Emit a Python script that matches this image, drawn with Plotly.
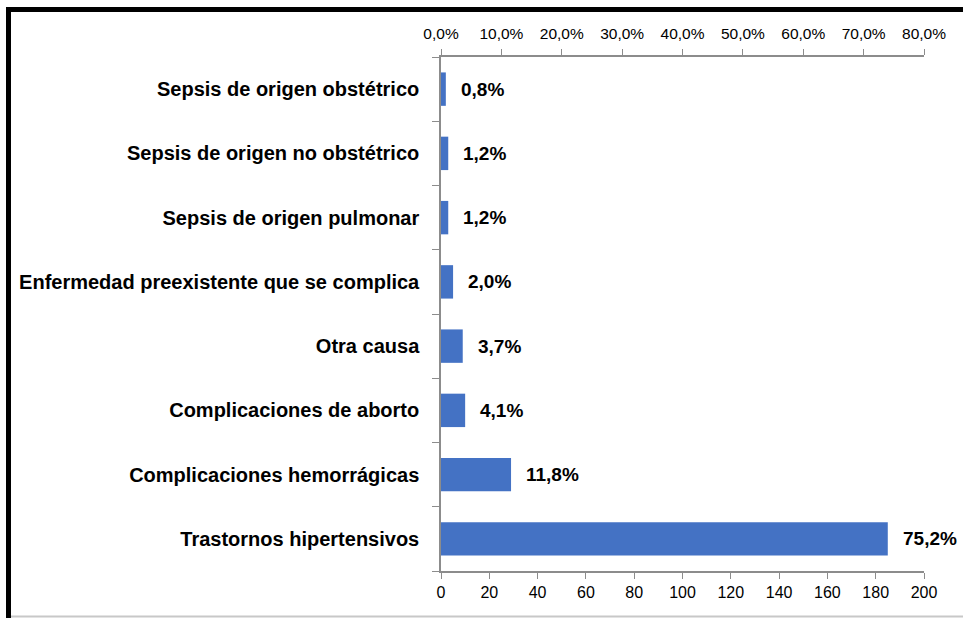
import plotly.graph_objects as go

# causes of maternal death, bottom to top as drawn
causes = [
    "Trastornos hipertensivos",
    "Complicaciones hemorrágicas",
    "Complicaciones de aborto",
    "Otra causa",
    "Enfermedad preexistente que se complica",
    "Sepsis de origen pulmonar",
    "Sepsis de origen no obstétrico",
    "Sepsis de origen obstétrico",
]
counts = [185, 29, 10, 9, 5, 3, 3, 2]
pct = [75.2, 11.8, 4.1, 3.7, 2.0, 1.2, 1.2, 0.8]
count_ticks = [0, 20, 40, 60, 80, 100, 120, 140, 160, 180, 200]
pct_ticks = [0, 0.1, 0.2, 0.3, 0.4, 0.5, 0.6, 0.7, 0.8]

W, H = 963, 618
ML, MR, MT, MB = 441, 39, 57, 47
AXIS = "#8c8c8c"
FONT = "Liberation Sans Narrow, Arial Narrow, Liberation Sans, Arial, sans-serif"


def px_x(p):
    return (p - ML) / (W - ML - MR)


def px_y(p):
    return (H - MB - p) / (H - MT - MB)


fig = go.Figure()
fig.add_trace(go.Bar(
    x=counts, y=causes, orientation="h",
    marker=dict(color="#4472C4", line=dict(width=0)),
    width=0.52, hoverinfo="skip",
))
# dummy trace so the top % axis is drawn
fig.add_trace(go.Scatter(x=[0], y=[causes[0]], xaxis="x2", mode="markers",
                         marker=dict(opacity=0), showlegend=False, hoverinfo="skip"))

for c, y, p in zip(counts, causes, pct):
    fig.add_annotation(x=c, y=y, text=("%.1f%%" % p).replace(".", ","),
                       showarrow=False, xanchor="left", xshift=13,
                       font=dict(size=19, color="black", family=FONT, weight="bold"))

shapes = [
    dict(type="line", xref="paper", yref="paper", x0=px_x(8.5), x1=px_x(8.5),
         y0=px_y(7), y1=px_y(620), line=dict(color="black", width=5)),
    dict(type="line", xref="paper", yref="paper", x0=px_x(6), x1=px_x(965),
         y0=px_y(9.5), y1=px_y(9.5), line=dict(color="black", width=5)),
    dict(type="line", xref="paper", yref="paper", x0=px_x(11), x1=px_x(965),
         y0=px_y(616.5), y1=px_y(616.5), line=dict(color="#c8c8c8", width=2)),
]

fig.update_layout(
    width=W, height=H,
    margin=dict(l=ML, r=MR, t=MT, b=MB),
    paper_bgcolor="white", plot_bgcolor="white",
    separators=",.",
    showlegend=False,
    font=dict(family=FONT, size=16, color="black"),
    shapes=shapes,
    xaxis=dict(range=[0, 200], tickvals=count_ticks, showgrid=False, zeroline=False,
               showline=True, linecolor=AXIS, linewidth=1.5, ticks="outside",
               tickcolor=AXIS, ticklen=6, tickfont=dict(size=16)),
    xaxis2=dict(range=[0, 0.8], tickvals=pct_ticks, tickformat=".1%", overlaying="x",
                side="top", showgrid=False, zeroline=False, showline=True,
                linecolor=AXIS, linewidth=1.5, ticks="outside", tickcolor=AXIS,
                ticklen=6, ticklabelstandoff=4, tickfont=dict(size=15.5)),
    yaxis=dict(categoryorder="array", categoryarray=causes, showgrid=False,
               showline=True, linecolor=AXIS, linewidth=1.5, ticks="outside",
               tickson="boundaries", tickcolor=AXIS, ticklen=7, ticklabelstandoff=16,
               tickfont=dict(size=20, weight="bold")),
)

fig.write_html("out.html", config={"displayModeBar": False},
               post_script="document.body.style.margin='0';document.body.style.overflow='hidden';")
